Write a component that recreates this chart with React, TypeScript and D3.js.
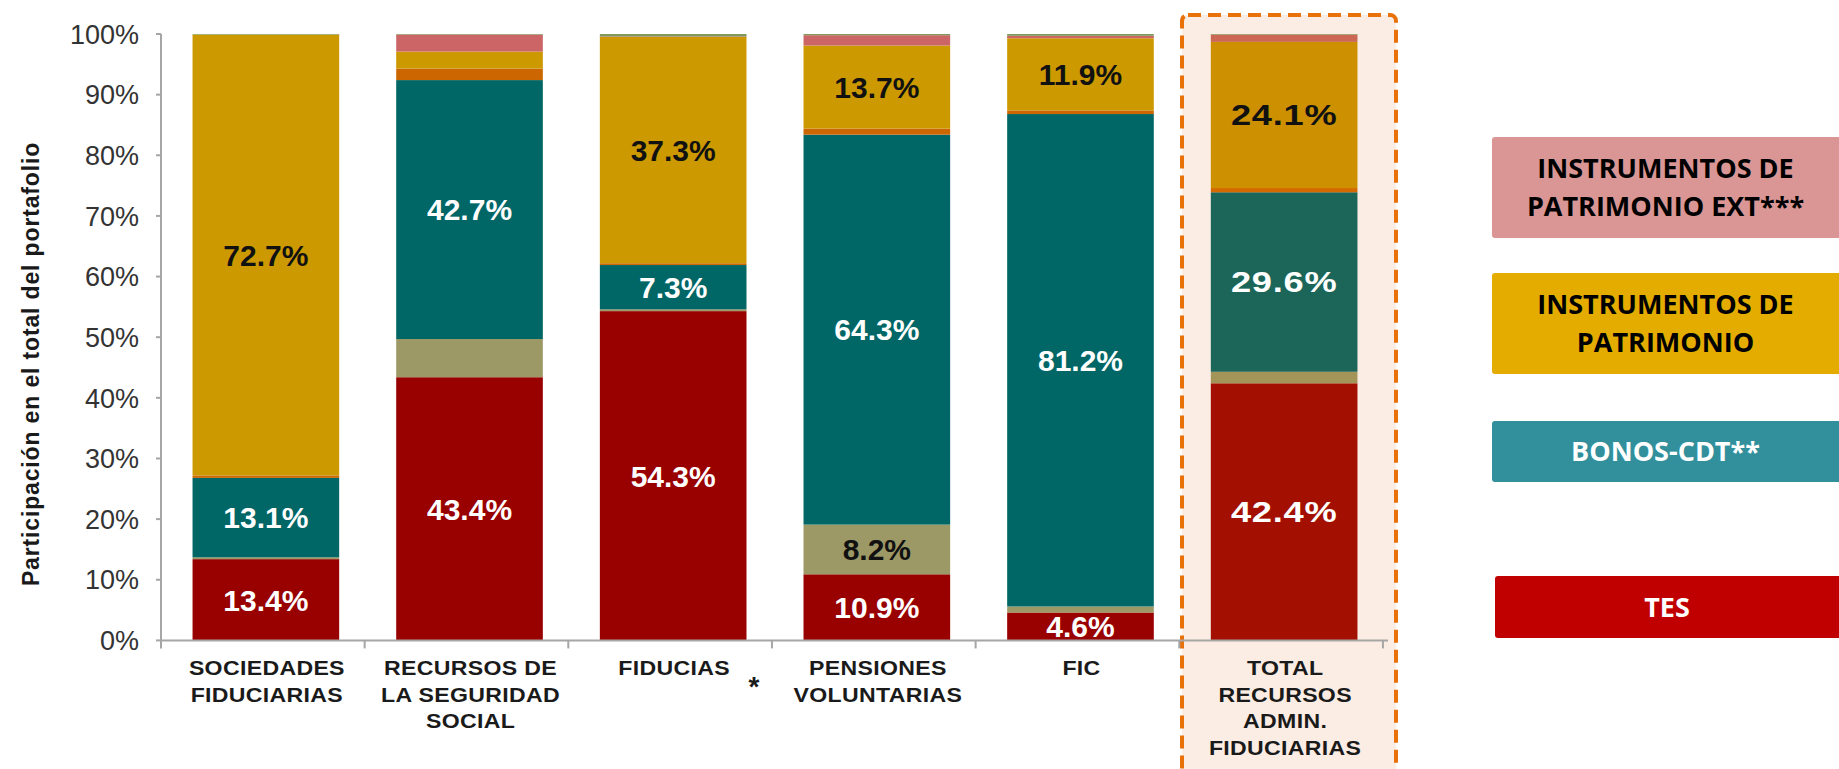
import React, { useEffect } from "react";
import * as d3 from "d3";

// ---------- DATA ----------
const categories: string[][] = [
  ["SOCIEDADES", "FIDUCIARIAS"],
  ["RECURSOS DE", "LA SEGURIDAD", "SOCIAL"],
  ["FIDUCIAS"],
  ["PENSIONES", "VOLUNTARIAS"],
  ["FIC"],
  ["TOTAL", "RECURSOS", "ADMIN.", "FIDUCIARIAS"],
];

// stacked bottom -> top (% of portfolio)
const tes = [13.4, 43.4, 54.3, 10.9, 4.6, 42.4];
const otros = [0.3, 6.3, 0.3, 8.2, 1.0, 1.9];
const bonosCdt = [13.1, 42.7, 7.3, 64.3, 81.2, 29.6];
const otrosRentaFija = [0.4, 1.9, 0.3, 1.0, 0.6, 0.7];
const patrimonio = [72.7, 2.8, 37.3, 13.7, 11.9, 24.1];
const patrimonioExt = [0.0, 2.8, 0.1, 1.7, 0.4, 1.2];
const resto = [0.1, 0.1, 0.4, 0.2, 0.3, 0.1];

const seriesValues = [tes, otros, bonosCdt, otrosRentaFija, patrimonio, patrimonioExt, resto];
const seriesNames = ["TES", "OTROS", "BONOS-CDT", "OTROS RF", "PATRIMONIO", "PATRIMONIO EXT", "RESTO"];
const labelMin = [4, 7, 4, 99, 4, 99, 99];

const yTicks = [0, 10, 20, 30, 40, 50, 60, 70, 80, 90, 100];

const legendItems = [
  { lines: ["INSTRUMENTOS DE", "PATRIMONIO EXT***"] },
  { lines: ["INSTRUMENTOS DE", "PATRIMONIO"] },
  { lines: ["BONOS-CDT**"] },
  { lines: ["TES"] },
];

// ---------- STYLE ----------
const seriesColors = ["#990000", "#9C9966", "#006666", "#CC6600", "#CC9900", "#CC6666", "#7F9A5A"];
const totalColors = ["#A30F00", "#A39558", "#1B6659", "#D46A00", "#CC9000", "#CC6655", "#7F9A5A"];
const labelColors = ["#ffffff", "#111111", "#ffffff", "#111111", "#111111", "#111111", "#111111"];
const legendStyle = [
  { fill: "#D99694", text: "#000000", x: 1492, y: 137, h: 101 },
  { fill: "#E5AC00", text: "#000000", x: 1492, y: 273, h: 101 },
  { fill: "#31909C", text: "#ffffff", x: 1492, y: 421, h: 61 },
  { fill: "#C00000", text: "#ffffff", x: 1495, y: 576, h: 62 },
];

const W = 1839;
const H = 769;

export default function App() {
  useEffect(() => {
    document.body.style.margin = "0";
    document.body.style.overflow = "hidden";
  }, []);

  const idx = categories.map((_, i) => i);
  const x = d3.scaleBand<number>().domain(idx).range([162, 1388]).paddingInner(0.28).paddingOuter(0.15);
  const y = d3.scaleLinear().domain([0, 100]).range([640.4, 34]);

  const table = idx.map((i) => {
    const row: any = { i };
    seriesNames.forEach((n, s) => (row[n] = seriesValues[s][i]));
    return row;
  });
  const stack = d3.stack<any>().keys(seriesNames)(table);

  const step = x.step();
  const axisLeft = 161;
  const axisRight = 1388;
  const boundaries = d3.range(0, categories.length + 1).map((k) => axisLeft + k * step);

  return (
    <svg width={W} height={H} style={{ position: "absolute", left: 0, top: 0, background: "#fff" }}>
      {/* highlight box for total */}
      <rect x={1182} y={15} width={214} height={800} rx={6} fill="#FBEDE3" stroke="#E8710A"
        strokeWidth={4} strokeDasharray="13 7" />

      {/* bars */}
      {stack.map((layer, s) => (
        <g key={seriesNames[s]}>
          {layer.map((d, i) => {
            const h = y(d[0]) - y(d[1]);
            if (h <= 0) return null;
            return (
              <rect key={i} x={x(i)!} y={y(d[1])} width={x.bandwidth()} height={h}
                fill={i === categories.length - 1 ? totalColors[s] : seriesColors[s]} />
            );
          })}
        </g>
      ))}

      {/* value labels */}
      {stack.map((layer, s) =>
        layer.map((d, i) => {
          const v = seriesValues[s][i];
          if (v < labelMin[s]) return null;
          const cy = (y(d[0]) + y(d[1])) / 2;
          const cx = x(i)! + x.bandwidth() / 2;
          const isTotal = i === categories.length - 1;
          return (
            <g key={`${s}-${i}`} transform={`translate(${cx},${cy}) scale(${isTotal ? 1.25 : 1},1)`}>
              <text x={0} y={0} dy="0.36em" textAnchor="middle"
                fontFamily="Liberation Sans, Arial, sans-serif" fontWeight="bold" fontSize={isTotal ? 29 : 30}
                letterSpacing={isTotal ? 0.6 : 0} fill={labelColors[s]}>
                {v.toFixed(1) + "%"}
              </text>
            </g>
          );
        })
      )}

      {/* y axis */}
      <line x1={axisLeft} x2={axisLeft} y1={y(100)} y2={y(0)} stroke="#A6A6A6" strokeWidth={2} />
      {yTicks.map((t) => (
        <g key={t}>
          <line x1={axisLeft - 5} x2={axisLeft} y1={y(t)} y2={y(t)} stroke="#A6A6A6" strokeWidth={2} />
          <text x={139} y={y(t)} dy="0.36em" textAnchor="end" fontFamily="Liberation Sans, Arial, sans-serif"
            fontSize={27} fill="#333333">
            {t + "%"}
          </text>
        </g>
      ))}

      {/* x axis */}
      <line x1={axisLeft} x2={axisRight} y1={y(0)} y2={y(0)} stroke="#A6A6A6" strokeWidth={2} />
      {boundaries.map((bx, k) => (
        <line key={k} x1={bx} x2={bx} y1={y(0)} y2={y(0) + 8} stroke="#A6A6A6" strokeWidth={2} />
      ))}
      {categories.map((lines, i) => (
        <g key={i} transform={`translate(${x(i)! + x.bandwidth() / 2 + 1},0) scale(1.1,1)`}>
          <text textAnchor="middle" fontFamily="Liberation Sans, Arial, sans-serif" fontWeight="bold"
            fontSize={21} fill="#1a1a1a" letterSpacing={0.3}>
            {lines.map((ln, k) => (
              <tspan key={k} x={0} y={675 + k * 26.6}>
                {ln}
              </tspan>
            ))}
          </text>
        </g>
      ))}
      <text x={754} y={696} textAnchor="middle" fontFamily="Liberation Sans, Arial, sans-serif" fontWeight="bold"
        fontSize={28} fill="#1a1a1a">
        *
      </text>

      {/* y axis title */}
      <text transform={`translate(39, ${364}) rotate(-90)`} textAnchor="middle"
        fontFamily="Liberation Sans, Arial, sans-serif" fontWeight="bold" fontSize={23} letterSpacing={0.85}
        fill="#1a1a1a">
        Participación en el total del portafolio
      </text>

      {/* legend */}
      {legendItems.map((item, k) => {
        const st = legendStyle[k];
        const cx = (st.x + W) / 2;
        const cy = st.y + st.h / 2;
        const lh = 38;
        const n = item.lines.length;
        return (
          <g key={k}>
            <rect x={st.x} y={st.y} width={W - st.x + 6} height={st.h} rx={3} fill={st.fill} />
            <text textAnchor="middle" fontFamily="Open Sans, sans-serif" fontWeight="bold" fontSize={27}
              fill={st.text}>
              {item.lines.map((ln, j) => (
                <tspan key={j} x={cx} y={cy + (j - (n - 1) / 2) * lh} dy="0.36em">
                  {ln}
                </tspan>
              ))}
            </text>
          </g>
        );
      })}
    </svg>
  );
}
